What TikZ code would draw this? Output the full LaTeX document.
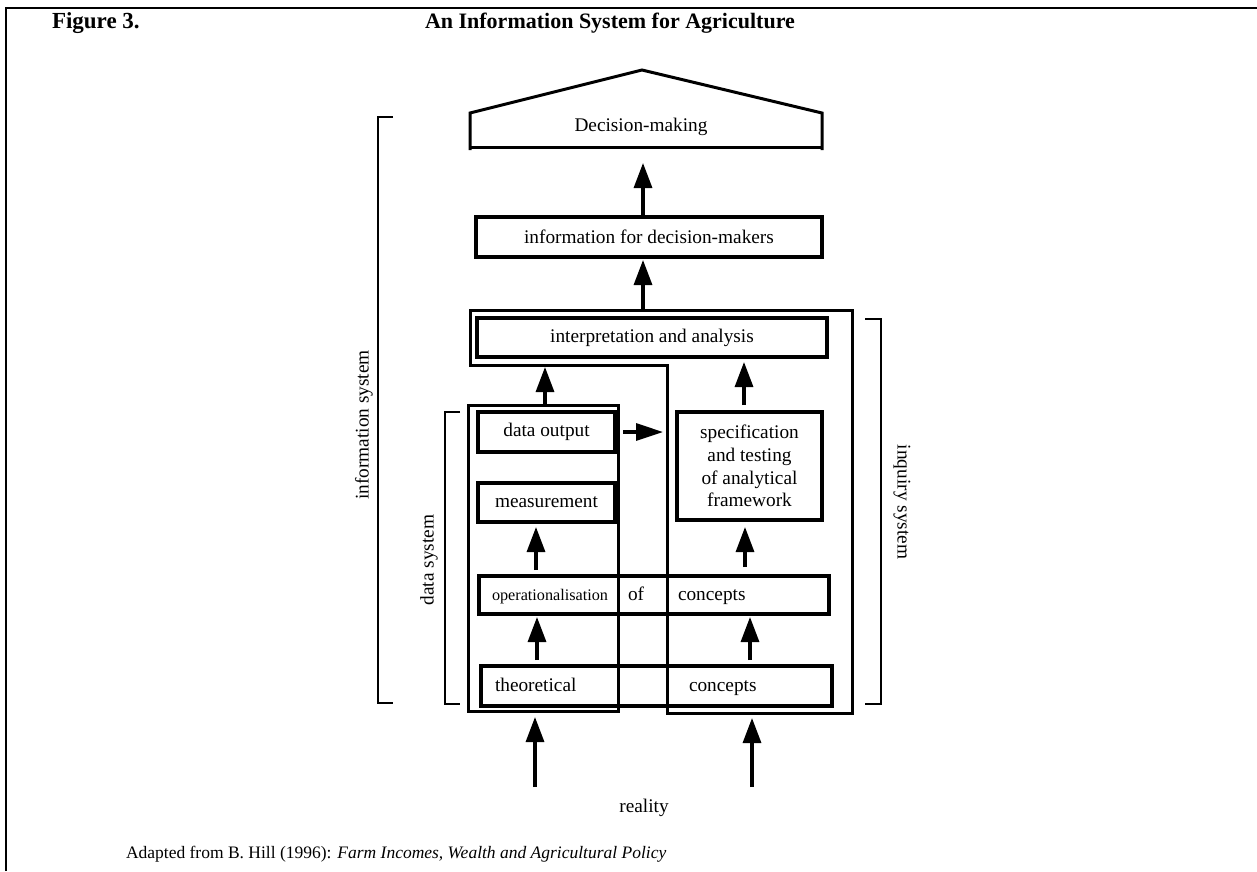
\documentclass[tikz,border=0pt]{standalone}
\usepackage{fontspec}
\setmainfont{Liberation Serif}
\usetikzlibrary{arrows.meta}
\newcommand\bodyfs{\fontsize{19.3}{22.7}\selectfont}
\tikzset{
  boxx/.style={draw, line width=3.2pt, inner sep=0pt, outer sep=0pt, font=\bodyfs},
  frm/.style={line width=3pt},
  brk/.style={line width=2.6pt},
  arr/.style={line width=3.2pt, -{Triangle[length=25pt,width=18pt]}},
  arrh/.style={line width=3.2pt, -{Triangle[length=27pt,width=17pt]}},
  lbl/.style={inner sep=0pt, outer sep=0pt, font=\bodyfs},
  ttlf/.style={inner sep=0pt, outer sep=0pt, font=\fontsize{22}{26}\selectfont\bfseries},
}
\begin{document}
\begin{tikzpicture}[x=1pt,y=-1pt]
\useasboundingbox (0,0) rectangle (1257,871);
% page frame
\draw[line width=1.6pt] (6,871) -- (6,8) -- (1257,8);
% title
\node[ttlf, anchor=base west, font=\fontsize{23}{26}\selectfont\bfseries] (fig) at (52,28) {Figure 3.};
\node[ttlf, anchor=base west] (ttl) at (425,28) {An Information System for Agriculture};
% house
\draw[frm, line join=miter] (470,150) -- (470,113) -- (642,70) -- (822,113) -- (822,150);
\draw[frm] (470,147) -- (822,147);
\coordinate (hb) at (643,147);
\node[lbl, anchor=base] (dm) at (641,131) {Decision-making};
% boxes
\node[boxx, minimum width=346pt, minimum height=40pt] (info) at (649,237) {information for decision-makers};
\node[boxx, minimum width=350pt, minimum height=39pt] (interp) at (652,337.5) {interpretation and analysis};
\node[boxx, minimum width=137pt, minimum height=40pt] (dout) at (546.5,432) {data output};
\node[boxx, minimum width=137pt, minimum height=39pt] (meas) at (546.5,502.5) {measurement};
\node[boxx, minimum width=145pt, minimum height=108pt, align=center] (spec) at (749.5,466) {specification\\and testing\\of analytical\\framework};
\node[boxx, minimum width=350pt, minimum height=38pt] (op) at (654,595) {};
\node[boxx, minimum width=351pt, minimum height=40pt] (theo) at (656.5,686) {};
\node[lbl, anchor=base west, font=\fontsize{16.2}{19}\selectfont] (t1) at (492,600) {operationalisation};
\node[lbl, anchor=base west] (t2) at (628,600) {of};
\node[lbl, anchor=base west] (t3) at (678,600) {concepts};
\node[lbl, anchor=base west] (t4) at (495,691) {theoretical};
\node[lbl, anchor=base west] (t5) at (689,691) {concepts};
% frames
\node[draw, frm, inner sep=0pt, outer sep=0pt, minimum width=150pt, minimum height=306pt] (dframe) at (543,558) {};
\draw[frm, line join=miter] (470,310) -- (852,310) -- (852,713) -- (667,713) -- (667,365) -- (470,365) -- cycle;
\coordinate (iqb) at (760,713);
% brackets
\draw[brk] (393,117) -- (378,117) -- (378,703) -- (393,703);
\draw[brk] (460,412) -- (445,412) -- (445,704) -- (460,704);
\draw[brk] (865,319) -- (881,319) -- (881,704) -- (865,704);
\node[lbl, rotate=90] (lis) at (364,425) {information system};
\node[lbl, rotate=90] (lds) at (429,560) {data system};
\node[lbl, rotate=-90] (liq) at (902,502) {inquiry system};
% arrow columns
\coordinate (c1) at (643,0);
\coordinate (c3) at (545,0);
\coordinate (c4) at (744,0);
\coordinate (c6) at (536,0);
\coordinate (c7) at (745,0);
\coordinate (c8) at (537,0);
\coordinate (c9) at (750,0);
\coordinate (r1) at (535,787);
\coordinate (r2) at (752,787);
% arrows
\draw[arr, shorten >=16pt] (info.north -| c1) -- (hb);
\draw[arr, shorten <=8pt, shorten >=3pt] (interp.north -| c1) -- (info.south -| c1);
\draw[arr, shorten >=10pt] (dframe.north -| c3) -- (interp.south -| c3);
\draw[arr, shorten <=7pt, shorten >=5pt] (spec.north -| c4) -- (interp.south -| c4);
\draw[arrh, shorten <=8pt, shorten >=14pt] (dout.east) -- (spec.west |- dout.east);
\draw[arr, shorten <=6pt, shorten >=5pt] (op.north -| c6) -- (meas.south -| c6);
\draw[arr, shorten <=9pt, shorten >=7pt] (op.north -| c7) -- (spec.south -| c7);
\draw[arr, shorten <=6pt, shorten >=3pt] (theo.north -| c8) -- (op.south -| c8);
\draw[arr, shorten <=6pt, shorten >=3pt] (theo.north -| c9) -- (op.south -| c9);
\draw[arr, shorten >=6pt] (r1) -- (dframe.south -| r1);
\draw[arr, shorten >=5pt] (r2) -- (iqb -| r2);
% bottom texts
\node[lbl] (lre) at (644,808) {reality};
\node[lbl, anchor=base west, font=\fontsize{17.5}{20}\selectfont] (cap) at (126,858) {Adapted from B. Hill (1996): \textit{Farm Incomes, Wealth and Agricultural Policy}};
\end{tikzpicture}
\end{document}
